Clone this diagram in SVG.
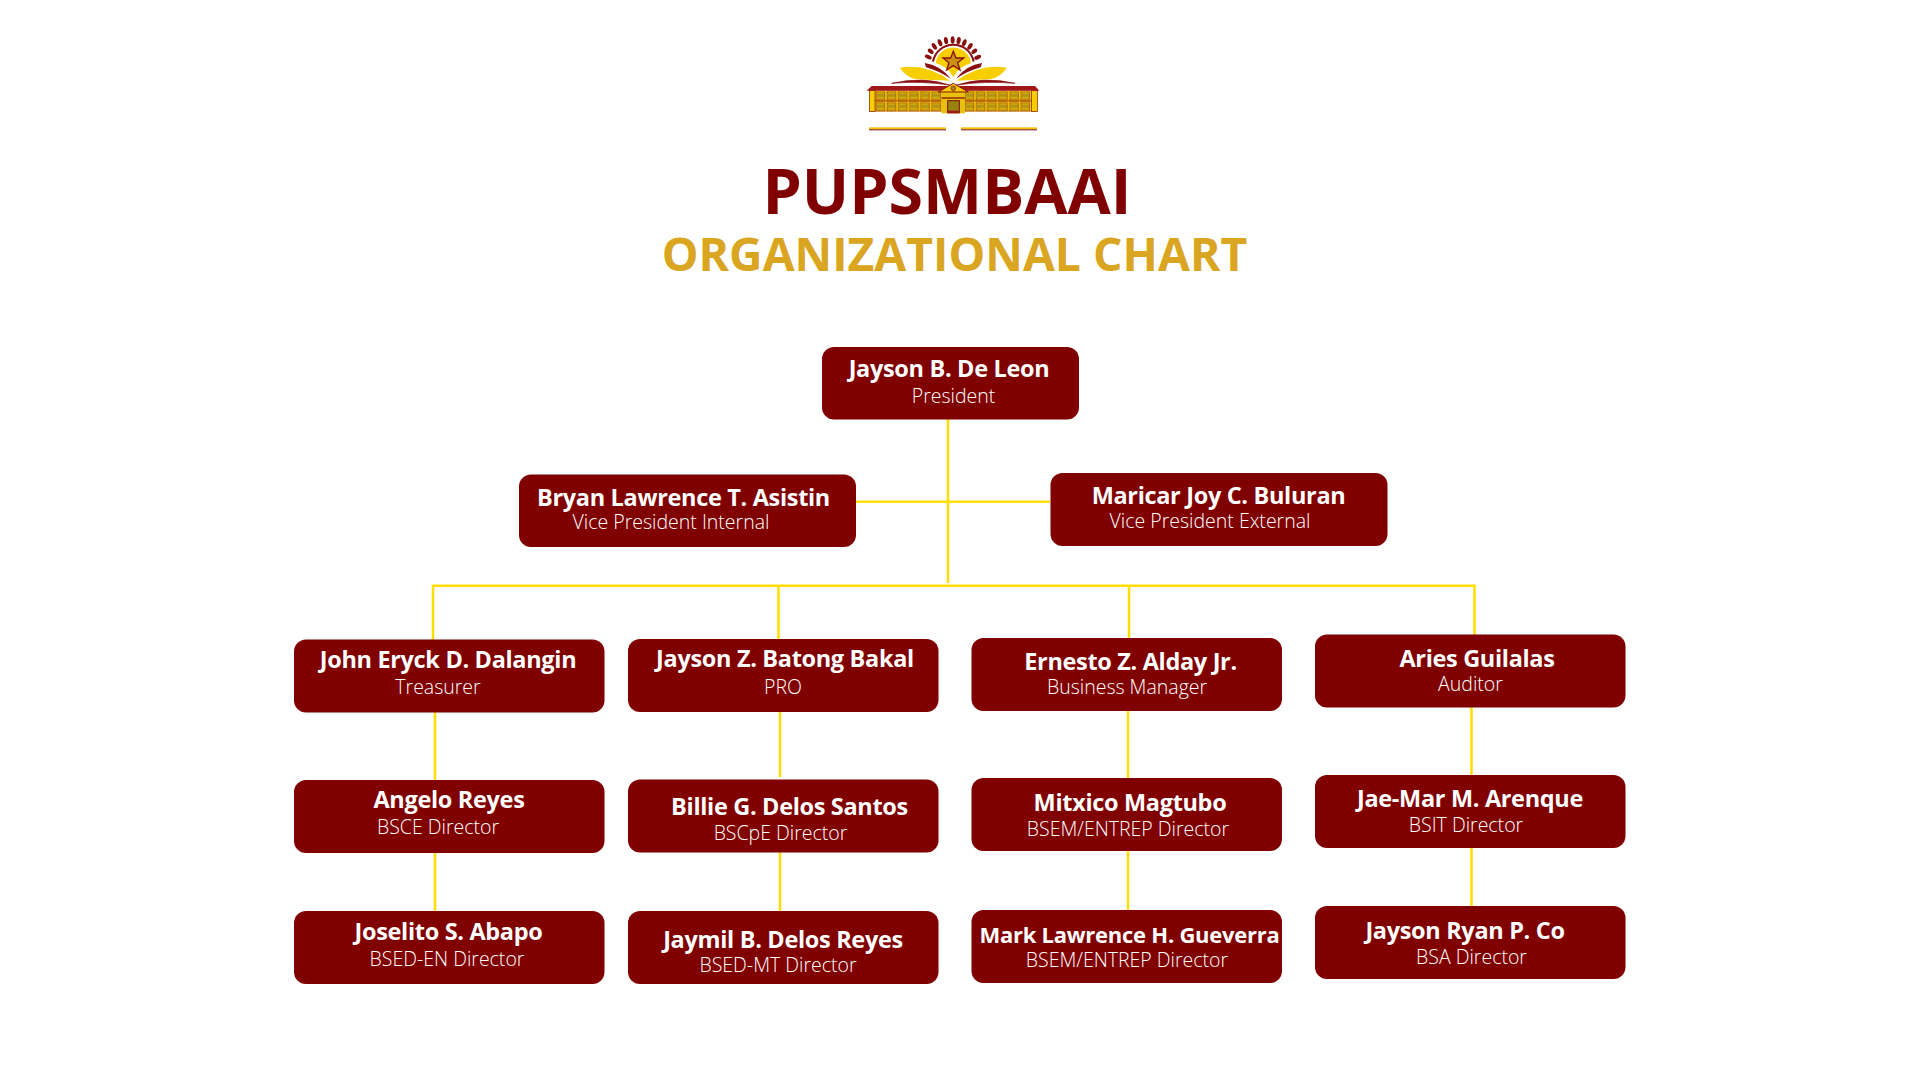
<svg xmlns="http://www.w3.org/2000/svg" width="1920" height="1080" viewBox="0 0 1920 1080">
<style>
text{font-family:"Open Sans","Noto Sans","Liberation Sans",sans-serif;text-anchor:middle}
.box{fill:#800000}
.n{font-size:23.5px;font-weight:700;letter-spacing:-.33px;fill:#fff}
.s{font-size:19.5px;font-weight:300;fill:#fff}
.c{stroke:#ffde00;stroke-width:2.5;fill:none}
</style>
<defs>
<pattern id="win" x="105" y="212" width="33.4" height="33" patternUnits="userSpaceOnUse">
<rect width="33.4" height="33" fill="#f7cf00"/>
<rect x="3" y="3" width="26" height="24" fill="#d8b010" stroke="#7a1010" stroke-width="1.5"/>
<rect x="4" y="9" width="24" height="10" fill="#b29312"/>
<rect y="29" width="33.4" height="3" fill="#8a1a10"/>
</pattern>
</defs>
<rect width="1920" height="1080" fill="#fff"/>
<g id="logo" transform="translate(840 20) scale(.3333)">
<path d="M288 122A54 54 0 0 1 392 122L392 130Q355 140 340 172Q325 140 288 130Z" fill="#f7cf00"/>
<path d="M279 125A62 62 0 0 1 401 125" fill="none" stroke="#8a0f0f" stroke-width="6"/>
<g fill="#8a0f0f">
<ellipse cx="265" cy="111" rx="11" ry="6" transform="rotate(25 265 111)"/>
<ellipse cx="272" cy="94" rx="10" ry="6" transform="rotate(40 272 94)"/>
<ellipse cx="283" cy="79" rx="11" ry="6" transform="rotate(55 283 79)"/>
<ellipse cx="300" cy="68" rx="11" ry="6" transform="rotate(68 300 68)"/>
<ellipse cx="318" cy="62" rx="11" ry="6" transform="rotate(80 318 62)"/>
<ellipse cx="338" cy="60" rx="11" ry="6" transform="rotate(90 338 60)"/>
<ellipse cx="356" cy="62" rx="11" ry="6" transform="rotate(100 356 62)"/>
<ellipse cx="373" cy="68" rx="11" ry="6" transform="rotate(112 373 68)"/>
<ellipse cx="390" cy="79" rx="11" ry="6" transform="rotate(125 390 79)"/>
<ellipse cx="403" cy="94" rx="10" ry="6" transform="rotate(140 403 94)"/>
<ellipse cx="413" cy="112" rx="11" ry="6" transform="rotate(155 413 112)"/>
</g>
<polygon points="340,94 348,114 371,114 353,128 360,150 340,137 320,150 327,128 309,114 332,114" fill="#c9900f" stroke="#8a0f0f" stroke-width="4"/>
<path d="M180 143Q260 130 330 182Q270 180 230 178Q195 170 180 143Z" fill="#f7cf00"/>
<path d="M500 143Q420 130 350 182Q410 180 450 178Q485 170 500 143Z" fill="#f7cf00"/>
<path d="M254 129Q300 135 332 176Q295 152 258 142Z" fill="#8a0f0f"/>
<path d="M426 129Q380 135 348 176Q385 152 422 142Z" fill="#8a0f0f"/>
<path d="M155 190Q250 168 332 196Q250 182 155 190Z" fill="#8a0f0f" stroke="#8a0f0f" stroke-width="2"/>
<path d="M525 190Q430 168 348 196Q430 182 525 190Z" fill="#8a0f0f" stroke="#8a0f0f" stroke-width="2"/>
<rect x="88" y="212" width="504" height="63" fill="url(#win)"/>
<rect x="88" y="212" width="17" height="63" fill="#f7cf00" stroke="#8a1a10" stroke-width="2"/>
<rect x="575" y="212" width="17" height="63" fill="#f7cf00" stroke="#8a1a10" stroke-width="2"/>
<polygon points="80,212 95,198 585,198 598,212" fill="#a01818"/>
<rect x="305" y="214" width="70" height="66" fill="#e8c010"/>
<rect x="323" y="242" width="35" height="36" fill="#9a8210" stroke="#7a1010" stroke-width="3"/>
<rect x="323" y="272" width="35" height="8" fill="#a01818"/>
<rect x="305" y="232" width="70" height="4" fill="#8a1a10"/>
<polygon points="295,216 340,190 385,216" fill="#f7cf00" stroke="#8a0f0f" stroke-width="3"/>
<circle cx="340" cy="205" r="7" fill="#a9851a" stroke="#8a0f0f" stroke-width="2"/>
<rect x="87" y="322" width="231" height="6" fill="#f2c40a"/><rect x="87" y="328" width="231" height="3" fill="#8a0f0f"/>
<rect x="363" y="322" width="228" height="6" fill="#f2c40a"/><rect x="363" y="328" width="228" height="3" fill="#8a0f0f"/>
</g>
<g id="title">
<text x="947" y="213.5" font-size="62.7" font-weight="700" fill="#800000">PUPSMBAAI</text>
<text x="954.5" y="271" font-size="46.3" font-weight="700" fill="#daa520">ORGANIZATIONAL CHART</text>
</g>
<g id="connectors">
<path class="c" d="M948 419V583M856 501.7H1050"/>
<path class="c" d="M433 640V585.7H1474.5V635M778.500 585.700V640M1129 585.7V639"/>
<path class="c" d="M435 712V780M435 853V911M780 712V777M780 852V911M1128 711V778M1128 851V910M1471.5 707V775M1471.5 848V906"/>
</g>
<g id="president"><rect class="box" x="822" y="347" width="257" height="72.500" rx="12"/><text class="n" x="949" y="377">Jayson B. De Leon</text><text class="s" x="953.5" y="403">President</text></g>
<g id="vp-internal"><rect class="box" x="519" y="474.500" width="337" height="72.500" rx="12"/><text class="n" x="683.5" y="506">Bryan Lawrence T. Asistin</text><text class="s" x="671" y="529">Vice President Internal</text></g>
<g id="vp-external"><rect class="box" x="1050.5" y="473" width="337" height="73" rx="12"/><text class="n" x="1218.5" y="504">Maricar Joy C. Buluran</text><text class="s" x="1210" y="528">Vice President External</text></g>
<g id="treasurer"><rect class="box" x="294" y="639.5" width="310.500" height="73" rx="12"/><text class="n" x="448" y="668">John Eryck D. Dalangin</text><text class="s" x="438" y="694">Treasurer</text></g>
<g id="pro"><rect class="box" x="628" y="639" width="310.500" height="73" rx="12"/><text class="n" x="785" y="667">Jayson Z. Batong Bakal</text><text class="s" x="783" y="694">PRO</text></g>
<g id="business-manager"><rect class="box" x="971.5" y="638" width="310.500" height="73" rx="12"/><text class="n" x="1130.5" y="670">Ernesto Z. Alday Jr.</text><text class="s" x="1127" y="694">Business Manager</text></g>
<g id="auditor"><rect class="box" x="1315" y="634.5" width="310.500" height="73" rx="12"/><text class="n" x="1477" y="667">Aries Guilalas</text><text class="s" x="1470.5" y="691">Auditor</text></g>
<g id="bsce"><rect class="box" x="294" y="780" width="310.500" height="73" rx="12"/><text class="n" x="449" y="808">Angelo Reyes</text><text class="s" x="438" y="834">BSCE Director</text></g>
<g id="bscpe"><rect class="box" x="628" y="779.5" width="310.500" height="73" rx="12"/><text class="n" x="789.5" y="815">Billie G. Delos Santos</text><text class="s" x="780.5" y="840">BSCpE Director</text></g>
<g id="bsem1"><rect class="box" x="971.5" y="778" width="310.500" height="73" rx="12"/><text class="n" x="1130" y="811">Mitxico Magtubo</text><text class="s" x="1128" y="836">BSEM/ENTREP Director</text></g>
<g id="bsit"><rect class="box" x="1315" y="775" width="310.500" height="73" rx="12"/><text class="n" x="1470" y="807">Jae-Mar M. Arenque</text><text class="s" x="1466" y="832">BSIT Director</text></g>
<g id="bsed-en"><rect class="box" x="294" y="911" width="310.500" height="73" rx="12"/><text class="n" x="448.5" y="940">Joselito S. Abapo</text><text class="s" x="447" y="966">BSED-EN Director</text></g>
<g id="bsed-mt"><rect class="box" x="628" y="911" width="310.500" height="73" rx="12"/><text class="n" x="783" y="948">Jaymil B. Delos Reyes</text><text class="s" x="778" y="972">BSED-MT Director</text></g>
<g id="bsem2"><rect class="box" x="971.5" y="910" width="310.500" height="73" rx="12"/><text class="n" x="1129.5" y="943" style="font-size:22px;letter-spacing:-.25px">Mark Lawrence H. Gueverra</text><text class="s" x="1127" y="967">BSEM/ENTREP Director</text></g>
<g id="bsa"><rect class="box" x="1315" y="906" width="310.500" height="73" rx="12"/><text class="n" x="1465" y="939">Jayson Ryan P. Co</text><text class="s" x="1471.5" y="964">BSA Director</text></g>
</svg>
